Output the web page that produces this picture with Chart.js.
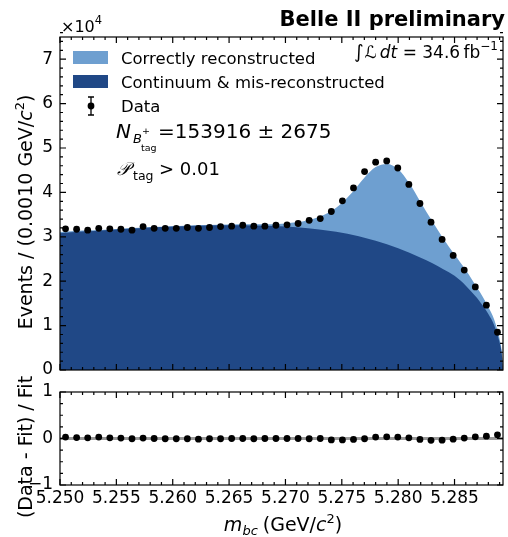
<!DOCTYPE html>
<html>
<head>
<meta charset="utf-8">
<script src="https://cdn.jsdelivr.net/npm/chart.js@4.4.1/dist/chart.umd.min.js"></script>
<style>
  body { margin: 0; background: #fff; }
  #wrap { position: relative; width: 508px; height: 537px; }
  canvas { position: absolute; left: 0; top: 0; }
</style>
</head>
<body>
<div id="wrap">
  <canvas id="mainChart" width="508" height="537"></canvas>
  <canvas id="ratioChart" width="508" height="537"></canvas>
</div>
<script>
// m_bc binning (GeV/c^2)
const xMin = 5.25;
const xMax = 5.2893;
const nBins = 40;

// events per bin
const dataCounts = [31800, 31700, 31500, 31900, 31800, 31700, 31500, 32300, 31900, 31900,
                    31900, 32100, 31900, 32100, 32300, 32400, 32600, 32400, 32400, 32600,
                    32700, 33000, 33700, 34100, 35700, 38100, 41000, 44700, 46800, 47100,
                    45500, 41800, 37500, 33300, 29400, 25800, 22500, 18700, 14600, 8500];

// (Data - Fit) / Fit per bin
const ratioValues = [0.03, 0.02, 0.015, 0.03, 0.015, 0.01, -0.005, 0.01, 0.0, -0.005,
                     -0.005, -0.005, -0.015, -0.005, -0.005, 0.0, 0.0, -0.005, 0.0, 0.0,
                     0.0, 0.0, -0.005, 0.0, -0.03, -0.03, -0.02, -0.005, 0.03, 0.035,
                     0.03, 0.015, -0.02, -0.04, -0.035, -0.015, 0.01, 0.035, 0.05, 0.08];

// fit components sampled along m_bc
const fitMass = [5.2500, 5.2520, 5.2540, 5.2560, 5.2580, 5.2600, 5.2620, 5.2640, 5.2660, 5.2680,
                 5.2700, 5.2720, 5.2740, 5.2750, 5.2760, 5.2770, 5.2780, 5.2790, 5.2800, 5.2810,
                 5.2820, 5.2830, 5.2840, 5.2850, 5.2860, 5.2870, 5.2875, 5.2880, 5.2885, 5.2888,
                 5.2890, 5.2892, 5.2893];
const fitBackground = [30800, 31200, 31500, 31800, 32100, 32300, 32500, 32600, 32600, 32500,
                       32300, 31900, 31300, 30900, 30400, 29800, 29100, 28300, 27400, 26400,
                       25300, 24100, 22700, 21200, 19000, 16200, 14500, 12600, 10200, 8000,
                       6200, 3400, 0];
const fitTotal = [31100, 31400, 31600, 31900, 32200, 32400, 32600, 32700, 32800, 32800,
                  33000, 33700, 35700, 37600, 40200, 43300, 45700, 46400, 45200, 42000,
                  37800, 33600, 29600, 26000, 22500, 18500, 16500, 14200, 11500, 9000,
                  7000, 3800, 0];

const xTickLabels = ['5.250', '5.255', '5.260', '5.265', '5.270', '5.275', '5.280', '5.285'];
const yTickValues = [0, 10000, 20000, 30000, 40000, 50000, 60000, 70000];
const ratioTickValues = [-1, 0, 1];

const lightBlue = '#6e9fd0';
const darkBlue = '#204886';
const FONT = 'DejaVu Sans, Liberation Sans, sans-serif';

const binWidth = (xMax - xMin) / nBins;
const binCenter = i => xMin + (i + 0.5) * binWidth;

// draws text pieces side by side, each with its own font and vertical shift
function drawRuns(ctx, runs, x, y, align) {
  let total = 0;
  runs.forEach(r => { ctx.font = r.font; r.w = ctx.measureText(r.text).width + (r.gap || 0); total += r.w; });
  let cx = x;
  if (align === 'center') cx = x - total / 2;
  if (align === 'right') cx = x - total;
  ctx.textAlign = 'left';
  runs.forEach(r => {
    ctx.font = r.font;
    ctx.fillText(r.text, cx, y + (r.dy || 0));
    cx += r.w;
  });
}

// frame with inward ticks on all four sides
function frameTicks(yMajorStep, yMinorStep, yLo, yHi) {
  return {
    id: 'frameTicks',
    afterDraw(chart) {
      const { ctx, chartArea: a, scales: { x, y } } = chart;
      ctx.save();
      ctx.strokeStyle = '#000';
      ctx.lineWidth = 1.2;
      ctx.strokeRect(a.left, a.top, a.right - a.left, a.bottom - a.top);
      ctx.beginPath();
      for (let i = 0; ; i++) {
        const v = xMin + i * 0.001;
        if (v > xMax + 1e-9) break;
        const px = x.getPixelForValue(v);
        const len = i % 5 === 0 ? 6 : 3;
        ctx.moveTo(px, a.bottom); ctx.lineTo(px, a.bottom - len);
        ctx.moveTo(px, a.top); ctx.lineTo(px, a.top + len);
      }
      const n = Math.round((yHi - yLo) / yMinorStep);
      const per = Math.round(yMajorStep / yMinorStep);
      for (let i = 0; i <= n; i++) {
        const py = y.getPixelForValue(yLo + i * yMinorStep);
        const len = i % per === 0 ? 6 : 3;
        ctx.moveTo(a.left, py); ctx.lineTo(a.left + len, py);
        ctx.moveTo(a.right, py); ctx.lineTo(a.right - len, py);
      }
      ctx.stroke();
      ctx.restore();
    }
  };
}

// texts of the upper panel
const mainLabels = {
  id: 'mainLabels',
  afterDraw(chart) {
    const ctx = chart.ctx;
    ctx.save();
    ctx.fillStyle = '#000';
    ctx.textBaseline = 'alphabetic';

    drawRuns(ctx, [
      { text: '\u00d710', font: `16px ${FONT}` },
      { text: '4', font: `11.5px ${FONT}`, dy: -8 }
    ], 61, 32, 'left');

    ctx.font = `bold 21px ${FONT}`;
    ctx.textAlign = 'right';
    ctx.fillText('Belle II preliminary', 505, 26);

    drawRuns(ctx, [
      { text: '\u222b', font: `18.5px ${FONT}`, gap: 1 },
      { text: '\u2112', font: `italic 17px ${FONT}`, gap: 3 },
      { text: 'dt', font: `italic 17px ${FONT}` },
      { text: ' = 34.6\u2009fb', font: `17px ${FONT}` },
      { text: '\u22121', font: `12px ${FONT}`, dy: -8 }
    ], 498, 58, 'right');

    // legend
    ctx.fillStyle = lightBlue;
    ctx.fillRect(73, 51, 35, 13);
    ctx.fillStyle = darkBlue;
    ctx.fillRect(73, 75, 35, 13);
    ctx.fillStyle = '#000';
    ctx.strokeStyle = '#000';
    ctx.lineWidth = 1.3;
    ctx.beginPath();
    ctx.moveTo(91, 97); ctx.lineTo(91, 115);
    ctx.moveTo(88, 97); ctx.lineTo(94, 97);
    ctx.moveTo(88, 115); ctx.lineTo(94, 115);
    ctx.stroke();
    ctx.beginPath();
    ctx.arc(91, 106, 3.4, 0, Math.PI * 2);
    ctx.fill();
    ctx.font = `16.5px ${FONT}`;
    ctx.textAlign = 'left';
    ctx.fillText('Correctly reconstructed', 121, 64);
    ctx.fillText('Continuum & mis-reconstructed', 121, 88);
    ctx.fillText('Data', 121, 112);

    // yield and selection
    ctx.font = `italic 20px ${FONT}`;
    ctx.fillText('N', 116, 138);
    ctx.font = `italic 13px ${FONT}`;
    ctx.fillText('B', 133, 143);
    ctx.font = `9.5px ${FONT}`;
    ctx.fillText('+', 142, 134);
    ctx.fillText('tag', 141, 151);
    ctx.font = `20px ${FONT}`;
    ctx.fillText('=153916 \u00b1 2675', 158, 138);

    ctx.font = `italic 18px ${FONT}`;
    ctx.fillText('\ud835\udcab', 117, 175);
    ctx.font = `12.5px ${FONT}`;
    ctx.fillText('tag', 133, 180);
    ctx.font = `18px ${FONT}`;
    ctx.fillText('> 0.01', 159, 175);

    // y axis title
    ctx.translate(32, 212);
    ctx.rotate(-Math.PI / 2);
    drawRuns(ctx, [
      { text: 'Events / (0.0010 GeV/', font: `19px ${FONT}` },
      { text: 'c', font: `italic 19px ${FONT}` },
      { text: '2', font: `13px ${FONT}`, dy: -8 },
      { text: ')', font: `19px ${FONT}` }
    ], 0, 0, 'center');
    ctx.restore();
  }
};

// grey reference line at zero in the lower panel
const zeroLine = {
  id: 'zeroLine',
  beforeDatasetsDraw(chart) {
    const { ctx, scales: { y }, chartArea: a } = chart;
    const py = y.getPixelForValue(0);
    ctx.save();
    ctx.strokeStyle = '#999999';
    ctx.lineWidth = 3;
    ctx.beginPath();
    ctx.moveTo(a.left, py);
    ctx.lineTo(a.right, py);
    ctx.stroke();
    ctx.restore();
  }
};

// axis titles of the lower panel
const ratioTitles = {
  id: 'ratioTitles',
  afterDraw(chart) {
    const ctx = chart.ctx;
    ctx.save();
    ctx.fillStyle = '#000';
    drawRuns(ctx, [
      { text: 'm', font: `italic 19px ${FONT}` },
      { text: 'bc', font: `italic 13px ${FONT}`, dy: 4, gap: 5 },
      { text: '(GeV/', font: `19px ${FONT}` },
      { text: 'c', font: `italic 19px ${FONT}` },
      { text: '2', font: `13px ${FONT}`, dy: -8 },
      { text: ')', font: `19px ${FONT}` }
    ], 283, 531, 'center');
    ctx.translate(32, 447);
    ctx.rotate(-Math.PI / 2);
    ctx.font = `19px ${FONT}`;
    ctx.textAlign = 'center';
    ctx.fillText('(Data - Fit) / Fit', 0, 0);
    ctx.restore();
  }
};

const dataPoints = dataCounts.map((v, i) => ({ x: binCenter(i), y: v }));
const ratioPoints = ratioValues.map((v, i) => ({ x: binCenter(i), y: v }));
const bkgPoints = fitMass.map((m, i) => ({ x: m, y: fitBackground[i] }));
const totalPoints = fitMass.map((m, i) => ({ x: m, y: fitTotal[i] }));

const tickFont = { family: FONT, size: 17 };

function xScale(showLabels, height) {
  return {
    type: 'linear', min: xMin, max: xMax,
    grid: { display: false, drawTicks: false },
    border: { display: false },
    afterBuildTicks: s => { s.ticks = xTickLabels.map(t => ({ value: parseFloat(t) })); },
    ticks: {
      display: showLabels, color: '#000', font: tickFont, padding: 3, maxRotation: 0, autoSkip: false,
      callback: v => v.toFixed(3)
    },
    afterFit: s => { s.height = height; }
  };
}

new Chart(document.getElementById('mainChart'), {
  type: 'line',
  data: {
    datasets: [
      { label: 'Data', data: dataPoints, showLine: false, order: 0, pointRadius: 3.4,
        pointBackgroundColor: '#000', pointBorderWidth: 0, clip: false },
      { label: 'Continuum & mis-reconstructed', data: bkgPoints, order: 1, fill: 'origin',
        backgroundColor: darkBlue, borderWidth: 0, borderColor: 'transparent', pointRadius: 0,
        cubicInterpolationMode: 'monotone' },
      { label: 'Correctly reconstructed', data: totalPoints, order: 2, fill: 'origin',
        backgroundColor: lightBlue, borderWidth: 0, borderColor: 'transparent', pointRadius: 0,
        cubicInterpolationMode: 'monotone' }
    ]
  },
  options: {
    responsive: false,
    animation: false,
    devicePixelRatio: 1,
    layout: { padding: { left: 0, right: 5, top: 37, bottom: 167 } },
    plugins: { legend: { display: false }, tooltip: { enabled: false } },
    scales: {
      x: xScale(false, 0),
      y: {
        min: 0, max: 75000,
        grid: { display: false, drawTicks: false },
        border: { display: false },
        afterBuildTicks: s => { s.ticks = yTickValues.map(v => ({ value: v })); },
        ticks: { color: '#000', font: tickFont, padding: 7, callback: v => String(v / 10000) },
        afterFit: s => { s.width = 60; }
      }
    }
  },
  plugins: [frameTicks(10000, 2000, 0, 75000), mainLabels]
});

new Chart(document.getElementById('ratioChart'), {
  type: 'line',
  data: {
    datasets: [
      { label: 'Ratio', data: ratioPoints, showLine: false, pointRadius: 3.4,
        pointBackgroundColor: '#000', pointBorderWidth: 0, clip: false }
    ]
  },
  options: {
    responsive: false,
    animation: false,
    devicePixelRatio: 1,
    layout: { padding: { left: 0, right: 5, top: 392, bottom: 0 } },
    plugins: { legend: { display: false }, tooltip: { enabled: false } },
    scales: {
      x: xScale(true, 52),
      y: {
        min: -1, max: 1,
        grid: { display: false, drawTicks: false },
        border: { display: false },
        afterBuildTicks: s => { s.ticks = ratioTickValues.map(v => ({ value: v })); },
        ticks: { color: '#000', font: tickFont, padding: 7,
                 callback: v => (v < 0 ? '\u2212' + Math.abs(v) : String(v)) },
        afterFit: s => { s.width = 60; }
      }
    }
  },
  plugins: [zeroLine, frameTicks(1, 0.25, -1, 1), ratioTitles]
});
</script>
</body>
</html>
